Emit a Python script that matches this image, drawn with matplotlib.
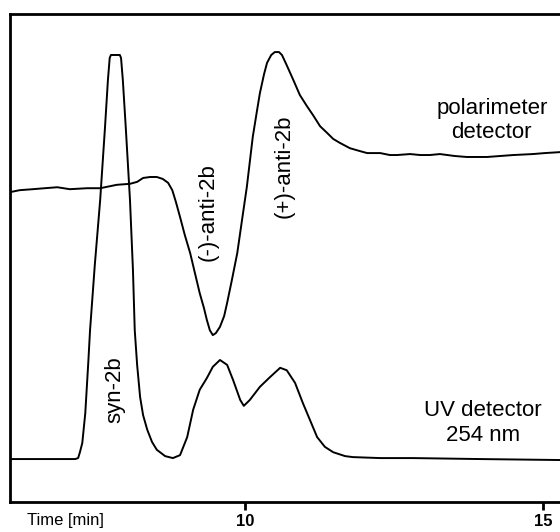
import matplotlib
matplotlib.use("Agg")
import matplotlib.pyplot as plt

plt.rcParams['font.family'] = ['Liberation Sans', 'DejaVu Sans']

# UV detector trace (time [min], signal a.u.)
uv_time = [6.06, 6.56, 7.15, 7.20, 7.23, 7.27, 7.32, 7.37, 7.40, 7.48, 7.57, 7.65,
           7.70, 7.73, 7.75, 7.90, 7.92, 7.95, 8.00, 8.07, 8.12, 8.15, 8.19, 8.24,
           8.29, 8.36, 8.44, 8.52, 8.66, 8.79, 8.91, 9.03, 9.13, 9.24, 9.36, 9.46,
           9.58, 9.70, 9.80, 9.92, 9.98, 10.08, 10.25, 10.42, 10.59, 10.70, 10.84,
           10.97, 11.09, 11.21, 11.34, 11.48, 11.68, 11.81, 12.27, 12.82, 13.94, 15.29]
uv_signal = [8.8, 8.8, 8.8, 9.0, 10.2, 12.1, 18.2, 28.5, 35.2, 48.6, 61.9, 76.6,
             86.5, 91.0, 91.6, 91.6, 91.0, 86.5, 76.6, 61.9, 47.5, 35.2, 28.1, 21.5,
             17.8, 14.8, 12.3, 10.7, 9.4, 9.0, 9.6, 13.3, 18.9, 23.0, 25.4, 27.7,
             29.1, 28.1, 25.0, 20.9, 19.7, 20.9, 23.6, 25.6, 27.5, 27.0, 24.4,
             20.3, 16.8, 13.3, 11.3, 10.2, 9.4, 9.2, 9.0, 9.0, 8.8, 8.6]

# Polarimeter detector trace
pol_time = [6.06, 6.22, 6.44, 6.64, 6.85, 7.06, 7.35, 7.57, 7.85, 8.07, 8.19, 8.29,
            8.41, 8.52, 8.62, 8.71, 8.78, 8.84, 8.91, 8.99, 9.08, 9.16, 9.24, 9.31,
            9.36, 9.41, 9.46, 9.51, 9.58, 9.65, 9.70, 9.78, 9.87, 9.95, 10.03, 10.13,
            10.20, 10.25, 10.32, 10.37, 10.44, 10.50, 10.57, 10.62, 10.70, 10.81,
            10.92, 11.04, 11.14, 11.26, 11.38, 11.48, 11.59, 11.76, 11.93, 12.05,
            12.27, 12.43, 12.55, 12.77, 12.94, 13.10, 13.27, 13.52, 13.72, 14.06,
            14.28, 14.50, 14.83, 15.03, 15.29]
pol_signal = [63.5, 63.9, 64.1, 64.3, 64.5, 64.1, 64.3, 64.3, 65.0, 65.2, 65.6, 66.4,
              66.6, 66.6, 66.2, 65.4, 63.9, 61.5, 58.4, 54.7, 51.0, 46.9, 42.8, 39.8,
              37.3, 35.2, 34.2, 34.6, 35.9, 38.1, 40.8, 45.5, 51.0, 57.8, 64.5, 74.8,
              80.1, 83.8, 87.7, 90.0, 91.6, 92.2, 92.2, 91.6, 89.5, 86.5,
              83.4, 81.1, 79.3, 77.0, 75.6, 74.4, 73.6, 72.5, 71.9, 71.5,
              71.5, 71.1, 71.1, 71.3, 71.1, 71.1, 71.3, 70.9, 70.7, 70.7,
              70.9, 71.1, 71.3, 71.5, 71.7]

xticks = [10, 15]
xtick_labels = ['10', '15']

fig = plt.figure(figsize=(5.6, 5.32), dpi=100)
ax = fig.add_axes([10/560, 30/532, 550/560, 488/532])

ax.plot(uv_time, uv_signal, color='black', lw=1.4, solid_joinstyle='round')
ax.plot(pol_time, pol_signal, color='black', lw=1.4, solid_joinstyle='round')

ax.set_xlim(6.057, 15.285)
ax.set_ylim(0, 100)
ax.set_yticks([])
ax.set_xticks(xticks)
ax.set_xticklabels(xtick_labels, fontsize=12, fontweight='bold')
ax.tick_params(axis='x', direction='out', length=6, width=2, pad=3)
for s in ['left', 'top', 'bottom']:
    ax.spines[s].set_linewidth(2)
ax.spines['right'].set_visible(False)

ax.text(14.14, 78.1, 'polarimeter\ndetector', ha='center', va='center', fontsize=16)
ax.text(13.99, 16.2, 'UV detector\n254 nm', ha='center', va='center', fontsize=16)
ax.text(7.82, 23.0, 'syn-2b', ha='center', va='center', rotation=90, fontsize=16)
ax.text(9.38, 59.4, '(-)-anti-2b', ha='center', va='center', rotation=90, fontsize=16)
ax.text(10.65, 68.9, '(+)-anti-2b', ha='center', va='center', rotation=90, fontsize=16)

fig.text(27/560, 1 - 513/532, 'Time [min]', ha='left', va='top', fontsize=12)

fig.savefig('out.png', dpi=100)
